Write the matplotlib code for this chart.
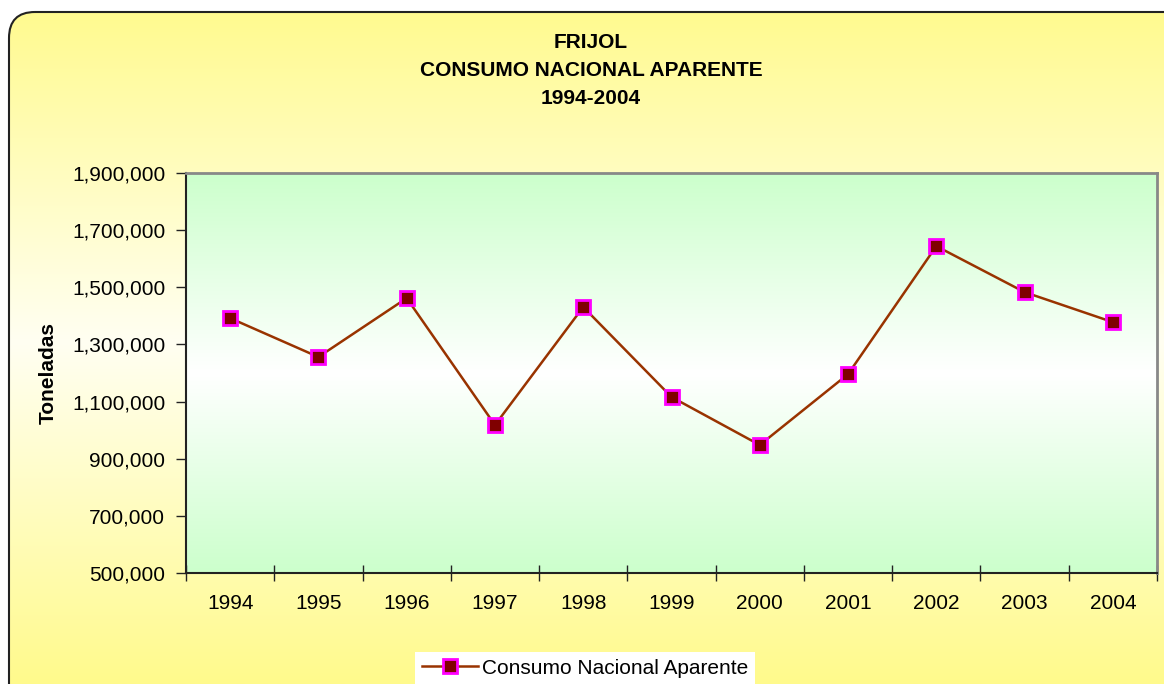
import matplotlib
matplotlib.use("Agg")
import matplotlib.pyplot as plt
import numpy as np
from matplotlib.patches import FancyBboxPatch
from matplotlib.colors import LinearSegmentedColormap
from matplotlib.ticker import FuncFormatter, FixedLocator

plt.rcParams['font.family'] = ['Liberation Sans', 'DejaVu Sans']

years = ["1994", "1995", "1996", "1997", "1998", "1999", "2000", "2001", "2002", "2003", "2004"]
consumo = [1392000, 1256000, 1462000, 1018000, 1431000, 1116000, 948000, 1196000, 1644000, 1483000, 1378000]
title_lines = ["FRIJOL", "CONSUMO NACIONAL APARENTE", "1994-2004"]
series_label = "Consumo Nacional Aparente"
y_label = "Toneladas"

W, H = 1164, 684
fig = plt.figure(figsize=(W / 100, H / 100), dpi=100, facecolor="white")

# background rounded panel with yellow gradient
bg = fig.add_axes([0, 0, 1, 1], zorder=-10)
bg.set_xlim(0, W)
bg.set_ylim(H, 0)
bg.axis("off")
panel = FancyBboxPatch((9, 12), W + 40, H + 40, boxstyle="round,pad=0,rounding_size=26",
                       facecolor="none", edgecolor="#222222", linewidth=1.5, zorder=2)
bg.add_patch(panel)
ycmap = LinearSegmentedColormap.from_list("y", [(0, "#FFFA8C"), (0.5, "#FFFFF2"), (1, "#FFFA8C")])
grad = np.linspace(0, 1, 256).reshape(-1, 1)
im = bg.imshow(grad, cmap=ycmap, extent=[0, W, H, 0], aspect="auto", zorder=1)
clip = FancyBboxPatch((9, 12), W + 40, H + 40, boxstyle="round,pad=0,rounding_size=26",
                      facecolor="none", edgecolor="none", transform=bg.transData)
bg.add_patch(clip)
im.set_clip_path(clip)
bg.set_xlim(0, W)
bg.set_ylim(H, 0)

# main axes
left, top, right, bottom = 186, 173, 1157, 573
ax = fig.add_axes([left / W, 1 - bottom / H, (right - left) / W, (bottom - top) / H])
ax.set_facecolor("none")
gcmap = LinearSegmentedColormap.from_list("g", [(0, "#CCFFCC"), (0.5, "#FFFFFF"), (1, "#CCFFCC")])
ax.imshow(grad, cmap=gcmap, extent=[0, 1, 0, 1], transform=ax.transAxes, aspect="auto", zorder=0)

x = np.arange(len(years))
ax.plot(x, consumo, color="#993300", linewidth=1.8, marker="s", markersize=10.5,
        markerfacecolor="#800000", markeredgecolor="#FF00FF", markeredgewidth=2, zorder=3,
        label=series_label)

ax.set_xlim(-0.5, len(years) - 0.5)
ax.set_ylim(500000, 1900000)
ax.set_yticks(np.arange(500000, 1900001, 200000))
ax.yaxis.set_major_formatter(FuncFormatter(lambda v, p: f"{int(v):,}"))
ax.set_xticks(x)
ax.set_xticklabels(years)
ax.xaxis.set_minor_locator(FixedLocator(np.arange(-0.5, len(years), 1.0)))
ax.tick_params(axis="x", which="major", length=0, pad=15, labelsize=15)
ax.tick_params(axis="x", which="minor", length=12, direction="inout", width=1, color="#222222")
ax.tick_params(axis="y", which="major", length=7, direction="out", width=1, color="#222222",
               labelsize=15, pad=8)

for s in ["left", "bottom"]:
    ax.spines[s].set_color("#222222")
    ax.spines[s].set_linewidth(1.5)
for s in ["top", "right"]:
    ax.spines[s].set_color("#888888")
    ax.spines[s].set_linewidth(2)

ax.set_ylabel(y_label, fontsize=15, fontweight="bold")
ax.yaxis.set_label_coords(-(left - 58) / (right - left), 0.5)

for i, t in enumerate(title_lines):
    fig.text(591 / W, 1 - (42 + 28.5 * i) / H, t, ha="center", va="center",
             fontsize=15, fontweight="bold")

leg = fig.legend(loc="center", bbox_to_anchor=(585 / W, 1 - 668 / H), frameon=True,
                 fontsize=15, handlelength=2.7, handletextpad=0.2, borderpad=0.3,
                 fancybox=False)
leg.get_frame().set_facecolor("white")
leg.get_frame().set_edgecolor("none")
leg.get_frame().set_alpha(1)

fig.savefig("out.png", dpi=100, facecolor=fig.get_facecolor())
